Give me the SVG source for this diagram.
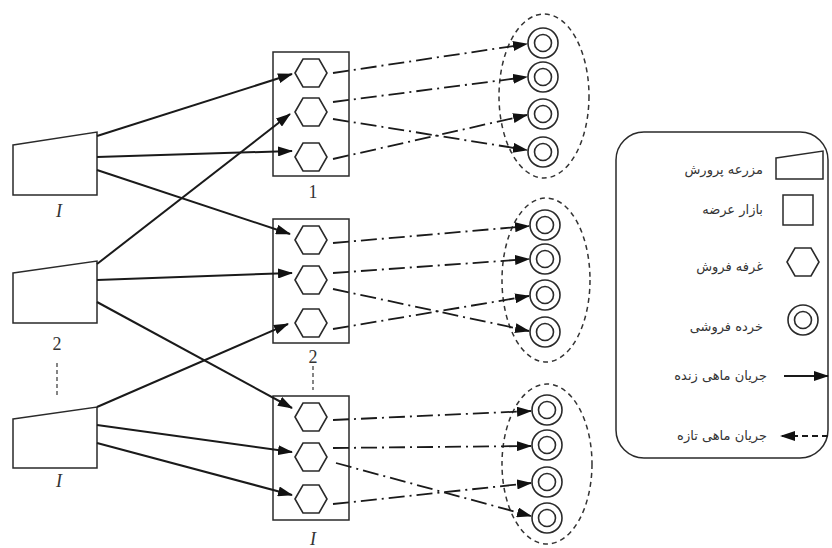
<svg xmlns="http://www.w3.org/2000/svg" xmlns:xlink="http://www.w3.org/1999/xlink" width="832" height="548" viewBox="0 0 832 548">
  <style>
    .shape { fill: #fff; stroke: #2a2a2a; stroke-width: 1.5; }
    .hex { fill: #fff; stroke: #2a2a2a; stroke-width: 1.6; }
    .ring { fill: none; stroke: #2a2a2a; stroke-width: 1.6; }
    .group { fill: none; stroke: #333; stroke-width: 1.5; stroke-dasharray: 5 4; }
    .live { fill: none; stroke: #1a1a1a; stroke-width: 2; marker-end: url(#solidHead); }
    .fresh { fill: none; stroke: #1a1a1a; stroke-width: 1.8; stroke-dasharray: 16 5 2 5; marker-end: url(#solidHead); }
    .num { font-family: "Liberation Serif", "DejaVu Serif", serif; font-size: 18px; fill: #333; text-anchor: middle; }
    .key { font-family: "DejaVu Sans", "Noto Sans", sans-serif; font-size: 13px; fill: #333; text-anchor: end; }
    .dots { stroke: #444; stroke-width: 1.3; stroke-dasharray: 4 3; }
  </style>
  <defs>
    <marker id="solidHead" viewBox="0 0 15 10" refX="14" refY="5" markerWidth="15" markerHeight="10" markerUnits="userSpaceOnUse" orient="auto">
      <path d="M0,0 L15,5 L0,10 Z" fill="#111"/>
    </marker>
    <polygon id="hexShape" points="-16,0 -8,-14 8,-14 16,0 8,14 -8,14"/>
    <g id="retail">
      <circle r="15" class="ring"/>
      <circle r="8.5" class="ring"/>
    </g>
  </defs>

  <rect width="832" height="548" fill="#fff"/>

  <!-- farms -->
  <g id="farm-1">
    <polygon class="shape" points="13,145 97,132 97,195 13,195"/>
    <text class="num" x="59" y="217" font-style="italic">I</text>
  </g>
  <g id="farm-2">
    <polygon class="shape" points="13,273 97,261 97,323 13,323"/>
    <text class="num" x="57" y="350">2</text>
    <line class="dots" x1="57" y1="363" x2="57" y2="396"/>
  </g>
  <g id="farm-3">
    <polygon class="shape" points="13,419 97,407 97,468 13,468"/>
    <text class="num" x="59" y="487" font-style="italic">I</text>
  </g>

  <!-- markets with their booths -->
  <g id="market-1">
    <rect class="shape" x="273" y="52" width="76" height="124"/>
    <use xlink:href="#hexShape" class="hex" x="311" y="73"/>
    <use xlink:href="#hexShape" class="hex" x="311" y="112"/>
    <use xlink:href="#hexShape" class="hex" x="311" y="157"/>
    <text class="num" x="313" y="198">1</text>
  </g>
  <g id="market-2">
    <rect class="shape" x="273" y="219" width="76" height="124"/>
    <use xlink:href="#hexShape" class="hex" x="311" y="240"/>
    <use xlink:href="#hexShape" class="hex" x="311" y="280"/>
    <use xlink:href="#hexShape" class="hex" x="311" y="323"/>
    <text class="num" x="313" y="363">2</text>
    <line class="dots" x1="313" y1="366" x2="313" y2="390"/>
  </g>
  <g id="market-3">
    <rect class="shape" x="273" y="396" width="76" height="124"/>
    <use xlink:href="#hexShape" class="hex" x="311" y="417"/>
    <use xlink:href="#hexShape" class="hex" x="311" y="457"/>
    <use xlink:href="#hexShape" class="hex" x="311" y="499"/>
    <text class="num" x="313" y="545" font-style="italic">I</text>
  </g>

  <!-- retail clusters -->
  <g id="retail-1">
    <ellipse class="group" cx="544" cy="96" rx="45" ry="82"/>
    <use xlink:href="#retail" x="543" y="43"/>
    <use xlink:href="#retail" x="543" y="77"/>
    <use xlink:href="#retail" x="543" y="114"/>
    <use xlink:href="#retail" x="543" y="152"/>
  </g>
  <g id="retail-2">
    <ellipse class="group" cx="546" cy="280" rx="44" ry="82"/>
    <use xlink:href="#retail" x="545" y="225"/>
    <use xlink:href="#retail" x="545" y="259"/>
    <use xlink:href="#retail" x="545" y="295"/>
    <use xlink:href="#retail" x="545" y="332"/>
  </g>
  <g id="retail-3">
    <ellipse class="group" cx="547" cy="464" rx="45" ry="80"/>
    <use xlink:href="#retail" x="547" y="410"/>
    <use xlink:href="#retail" x="547" y="445"/>
    <use xlink:href="#retail" x="547" y="482"/>
    <use xlink:href="#retail" x="547" y="518"/>
  </g>

  <!-- connectors -->
  <g id="connectors">
    <!-- live fish: farms to booths -->
    <line class="live" x1="97" y1="136" x2="292" y2="74"/>
    <line class="live" x1="97" y1="157" x2="292" y2="151"/>
    <line class="live" x1="97" y1="170" x2="290" y2="234"/>
    <line class="live" x1="97" y1="264" x2="290" y2="114"/>
    <line class="live" x1="97" y1="280" x2="292" y2="273"/>
    <line class="live" x1="97" y1="302" x2="292" y2="408"/>
    <line class="live" x1="97" y1="407" x2="288" y2="324"/>
    <line class="live" x1="97" y1="425" x2="292" y2="452"/>
    <line class="live" x1="97" y1="443" x2="292" y2="495"/>
    <!-- fresh fish: booths to retailers -->
    <line class="fresh" x1="333" y1="73" x2="527" y2="44"/>
    <line class="fresh" x1="333" y1="102" x2="527" y2="77"/>
    <line class="fresh" x1="333" y1="119" x2="527" y2="150"/>
    <line class="fresh" x1="333" y1="159" x2="527" y2="115"/>
    <line class="fresh" x1="333" y1="243" x2="529" y2="226"/>
    <line class="fresh" x1="333" y1="273" x2="529" y2="259"/>
    <line class="fresh" x1="333" y1="289" x2="529" y2="331"/>
    <line class="fresh" x1="333" y1="329" x2="529" y2="296"/>
    <line class="fresh" x1="333" y1="420" x2="531" y2="411"/>
    <line class="fresh" x1="333" y1="448" x2="531" y2="446"/>
    <line class="fresh" x1="336" y1="463" x2="531" y2="516"/>
    <line class="fresh" x1="333" y1="504" x2="531" y2="483"/>
  </g>

  <!-- key -->
  <g id="legend">
    <rect x="616" y="132" width="212" height="326" rx="28" ry="28" fill="#fff" stroke="#2a2a2a" stroke-width="1.5"/>
    <polygon class="shape" points="776,158 823,151 823,179 776,179"/>
    <text class="key" x="763" y="174">مزرعه پرورش</text>
    <rect class="shape" x="783" y="195" width="30" height="30"/>
    <text class="key" x="763" y="214">بازار عرضه</text>
    <use xlink:href="#hexShape" class="hex" x="803" y="262"/>
    <text class="key" x="763" y="271">غرفه فروش</text>
    <use xlink:href="#retail" x="803" y="320"/>
    <text class="key" x="763" y="331">خرده فروشی</text>
    <line class="live" x1="784" y1="376" x2="828" y2="376"/>
    <text class="key" x="767" y="380">جریان ماهی زنده</text>
    <line x1="828" y1="436" x2="781" y2="436" stroke="#1a1a1a" stroke-width="1.8" stroke-dasharray="6 4" marker-end="url(#solidHead)"/>
    <text class="key" x="767" y="440">جریان ماهی تازه</text>
  </g>
</svg>
